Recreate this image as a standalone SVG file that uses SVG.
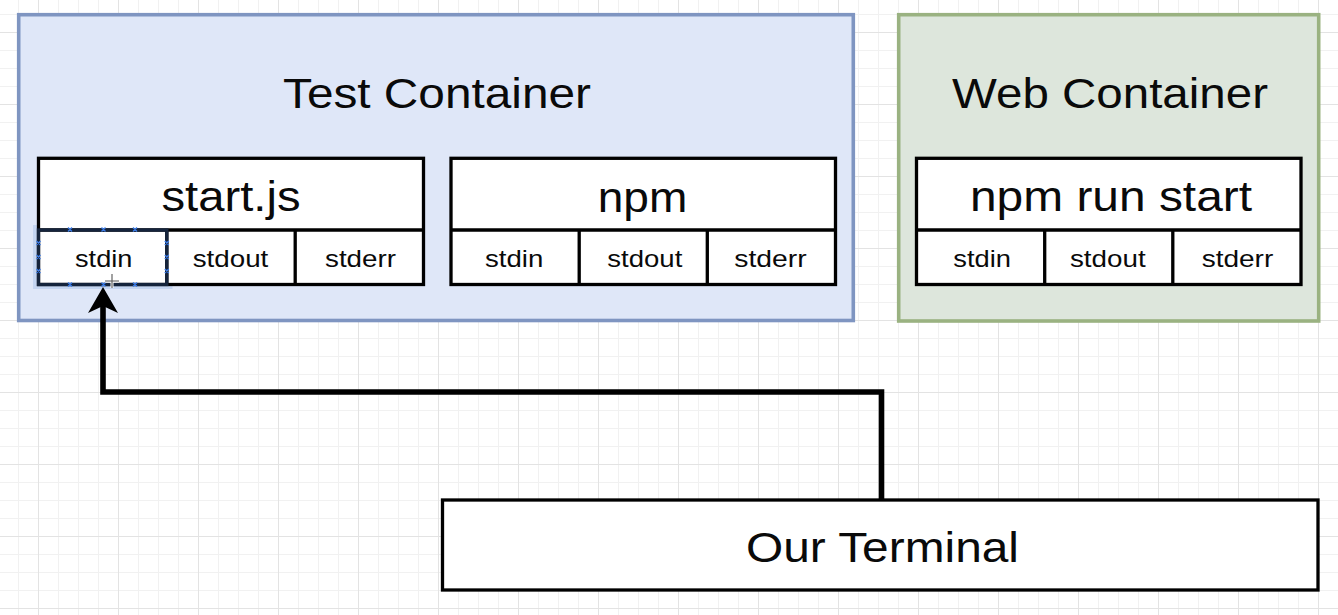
<svg xmlns="http://www.w3.org/2000/svg" width="1338" height="615" viewBox="0 0 1338 615">
  <style>
    .lbl { font-family: "Liberation Sans", Arial, Helvetica, sans-serif; fill: #0a0a0a; text-anchor: middle; }
    .big { font-size: 43px; }
    .mid { font-size: 42px; }
    .small { font-size: 24px; }
    .box { fill: #ffffff; stroke: #000000; stroke-width: 3.3; }
    .div { stroke: #000000; stroke-width: 3.3; fill: none; }
    .handle { stroke: #3b7be6; stroke-width: 1.3; fill: none; }
  </style>
  <defs>
    <pattern id="grid" patternUnits="userSpaceOnUse" x="38" y="32" width="80" height="72">
      <path d="M20.5 0V72M40.5 0V72M60.5 0V72M0 18.5H80M0 36.5H80M0 54.5H80" stroke="#f1f1f1" stroke-width="1" fill="none"/>
      <path d="M0.5 0V72M0 0.5H80" stroke="#e3e3e3" stroke-width="1" fill="none"/>
    </pattern>
    <marker id="arrow" markerUnits="userSpaceOnUse" markerWidth="30" markerHeight="32" viewBox="0 0 30 32" refX="13" refY="16" orient="auto">
      <path d="M0 1 L26 16 L0 31 L7 16 Z" fill="#000000"/>
    </marker>
  </defs>

  <!-- canvas -->
  <rect x="0" y="0" width="1338" height="615" fill="#ffffff"/>
  <rect x="0" y="0" width="1338" height="615" fill="url(#grid)"/>

  <!-- Test Container -->
  <g id="test-container">
    <rect x="18.7" y="14.7" width="834.6" height="305.8" fill="#dfe7f8" stroke="#7f95c1" stroke-width="3.6"/>
    <text class="lbl big" x="437" y="107.5" textLength="308" lengthAdjust="spacingAndGlyphs">Test Container</text>
  </g>

  <!-- Web Container -->
  <g id="web-container">
    <rect x="898.7" y="14.7" width="420" height="306.3" fill="#dde6dc" stroke="#9ab281" stroke-width="3.6"/>
    <text class="lbl big" x="1110" y="107.5" textLength="316" lengthAdjust="spacingAndGlyphs">Web Container</text>
  </g>

  <!-- selection band around the stdin cell of start.js -->
  <rect x="33" y="225" width="139.5" height="64" fill="#c4d5f1"/>

  <!-- start.js process -->
  <g id="start-js">
    <rect class="box" x="38.5" y="158.3" width="385" height="126.2"/>
    <path class="div" d="M38.5 230H423.5M166.8 230V284.5M295.2 230V284.5"/>
    <text class="lbl mid" x="231" y="211" textLength="139" lengthAdjust="spacingAndGlyphs">start.js</text>
    <text class="lbl small" x="103.7" y="267" textLength="57.3" lengthAdjust="spacingAndGlyphs">stdin</text>
    <text class="lbl small" x="230.5" y="267" textLength="75.6" lengthAdjust="spacingAndGlyphs">stdout</text>
    <text class="lbl small" x="360.5" y="267" textLength="71" lengthAdjust="spacingAndGlyphs">stderr</text>
  </g>

  <!-- selected stdin cell outline and handles -->
  <g id="stdin-selection">
    <rect x="38.5" y="230" width="128.3" height="54.5" fill="none" stroke="#15243c" stroke-width="3.3"/>
    <path class="handle" d="M68 227.5l4 4m0-4l-4 4M101.5 227.5l4 4m0-4l-4 4M133 227.5l4 4m0-4l-4 4
                            M68 282.5l4 4m0-4l-4 4M101.5 282.5l4 4m0-4l-4 4M133 282.5l4 4m0-4l-4 4
                            M36.5 241l4 4m0-4l-4 4M36.5 255l4 4m0-4l-4 4M36.5 269l4 4m0-4l-4 4
                            M164.8 241l4 4m0-4l-4 4M164.8 255l4 4m0-4l-4 4M164.8 269l4 4m0-4l-4 4"/>
  </g>

  <!-- npm process -->
  <g id="npm">
    <rect class="box" x="451" y="158.3" width="384.5" height="126.2"/>
    <path class="div" d="M451 230H835.5M579.2 230V284.5M707.3 230V284.5"/>
    <text class="lbl mid" x="642.5" y="211.5" textLength="89.6" lengthAdjust="spacingAndGlyphs">npm</text>
    <text class="lbl small" x="514.2" y="267" textLength="58.3" lengthAdjust="spacingAndGlyphs">stdin</text>
    <text class="lbl small" x="644.8" y="267" textLength="75" lengthAdjust="spacingAndGlyphs">stdout</text>
    <text class="lbl small" x="770.5" y="267" textLength="72.4" lengthAdjust="spacingAndGlyphs">stderr</text>
  </g>

  <!-- npm run start process -->
  <g id="npm-run-start">
    <rect class="box" x="916.5" y="158.3" width="384.5" height="126.2"/>
    <path class="div" d="M916.5 230H1301M1044.7 230V284.5M1172.8 230V284.5"/>
    <text class="lbl mid" x="1111" y="210.5" textLength="282" lengthAdjust="spacingAndGlyphs">npm run start</text>
    <text class="lbl small" x="982.2" y="267" textLength="57.7" lengthAdjust="spacingAndGlyphs">stdin</text>
    <text class="lbl small" x="1107.8" y="267" textLength="75.7" lengthAdjust="spacingAndGlyphs">stdout</text>
    <text class="lbl small" x="1237.5" y="267" textLength="71.6" lengthAdjust="spacingAndGlyphs">stderr</text>
  </g>

  <!-- Our Terminal -->
  <g id="our-terminal">
    <rect class="box" x="442.5" y="500" width="875.5" height="90"/>
    <text class="lbl big" x="882.5" y="562" font-size="44" textLength="273" lengthAdjust="spacingAndGlyphs">Our Terminal</text>
  </g>

  <!-- connectors -->
  <g id="connectors">
    <path d="M881.5 499V392H103V300" fill="none" stroke="#000000" stroke-width="5.6" stroke-linejoin="miter" marker-end="url(#arrow)"/>
  </g>

  <!-- pointer crosshair -->
  <g id="cursor">
    <path d="M105 281H119M112 274V288" stroke="#ffffff" stroke-width="3"/>
    <path d="M105 281H119M112 274V288" stroke="#555555" stroke-width="1.1"/>
  </g>
</svg>
